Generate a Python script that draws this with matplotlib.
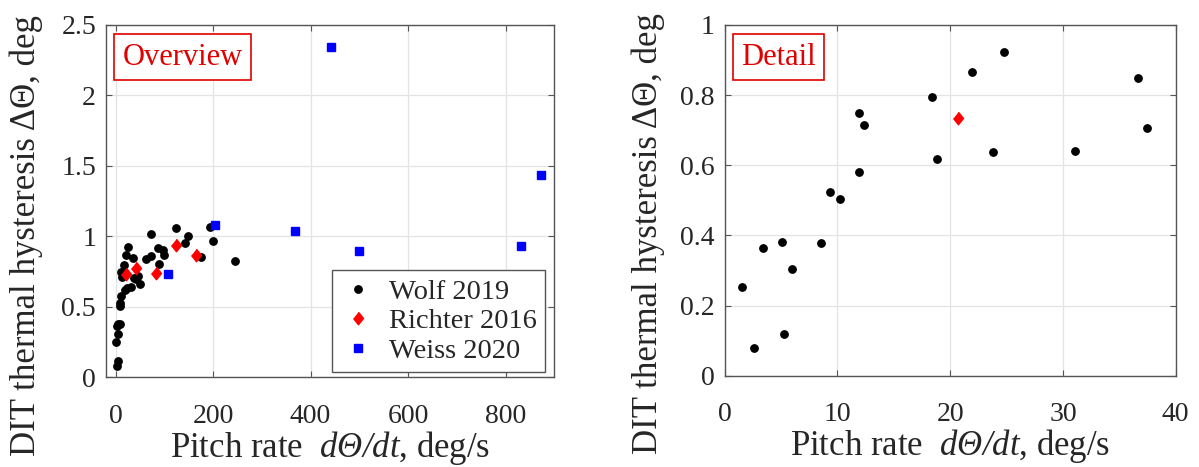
import matplotlib

matplotlib.use("Agg")
import matplotlib.pyplot as plt  # noqa: E402

plt.rcParams["font.family"] = ["Liberation Serif", "DejaVu Serif"]
plt.rcParams["mathtext.fontset"] = "custom"
plt.rcParams["mathtext.rm"] = "Liberation Serif"
plt.rcParams["mathtext.it"] = "Liberation Serif:italic"
# italic face also for the capital Greek letter in the derivative
plt.rcParams["mathtext.cal"] = "Liberation Serif:italic"

# Wolf 2019 (pitch rate deg/s, hysteresis deg)
wolf_rate = [1.5, 2.6, 3.4, 5.1, 5.3, 6.0, 8.5, 9.3, 10.2, 11.9, 11.9, 12.4,
             18.4, 18.8, 21.9, 23.8, 24.8, 31.1, 36.7, 37.5,
             43, 47, 50, 62, 73.5, 73, 87, 98, 100, 90,
             124, 142, 149, 175, 194, 200, 246]
wolf_hyst = [0.253, 0.080, 0.364, 0.381, 0.118, 0.305, 0.379, 0.525, 0.504, 0.748, 0.581, 0.716,
             0.796, 0.618, 0.867, 0.638, 0.924, 0.640, 0.849, 0.705,
             0.700, 0.722, 0.665, 0.839, 0.865, 1.020, 0.920, 0.905, 0.870, 0.805,
             1.057, 0.952, 1.000, 0.853, 1.065, 0.970, 0.827]

# Richter 2016
richter_rate = [20.7, 42, 83, 125, 166]
richter_hyst = [0.735, 0.773, 0.744, 0.938, 0.872]

# Weiss 2020
weiss_rate = [107.5, 205, 368, 442, 500, 831, 872]
weiss_hyst = [0.735, 1.078, 1.042, 2.342, 0.900, 0.929, 1.434]

TXT = "#262626"
AXC = "#555555"
DIAMOND = [(0, 1), (0.8, 0), (0, -1), (-0.8, 0)]

fig = plt.figure(figsize=(11.99, 4.67), dpi=100)
ax1 = fig.add_axes([0.0882, 0.1917, 0.3741, 0.7548])
ax2 = fig.add_axes([0.6044, 0.1955, 0.3761, 0.7510])


def style(ax, label_x):
    ax.grid(True, color="#e3e3e3", linewidth=0.9)
    ax.set_axisbelow(True)
    for s in ax.spines.values():
        s.set_color(AXC)
        s.set_linewidth(1.0)
    ax.tick_params(direction="in", top=True, right=True, length=4,
                   color=AXC, labelsize=20, labelcolor=TXT)
    ax.tick_params(axis="x", pad=19)
    ax.tick_params(axis="y", pad=7)
    ax.set_xlabel(r"Pitch rate  $\mathcal{d\Theta/dt}$, deg/s", fontsize=25, color=TXT, labelpad=0)
    ax.set_ylabel("DIT thermal hysteresis \u0394\u0398, deg", fontsize=25, color=TXT,
                  va="center")
    ax.yaxis.set_label_coords(label_x, 0.404)


def tag(ax, text, y):
    ax.text(0.037, y, text, transform=ax.transAxes, ha="left", va="top",
            fontsize=22, color="#e00000",
            bbox=dict(boxstyle="square,pad=0.27", facecolor="white",
                      edgecolor="#e00000", linewidth=1.2))


# overview
ax1.plot(wolf_rate, wolf_hyst, "o", color="black", markersize=5.3, label="Wolf 2019")
ax1.plot(richter_rate, richter_hyst, marker=DIAMOND, linestyle="none", color="#ff0000",
         markersize=9, label="Richter 2016")
ax1.plot(weiss_rate, weiss_hyst, "s", color="#0000ff", markersize=6, label="Weiss 2020")
ax1.set_xlim(-20, 900)
ax1.set_ylim(0, 2.5)
ax1.set_xticks([0, 200, 400, 600, 800])
ax1.set_yticks([0, 0.5, 1, 1.5, 2, 2.5])
ax1.set_yticklabels(["0", "0.5", "1", "1.5", "2", "2.5"])
style(ax1, -0.178)
tag(ax1, "Overview", 0.95)
leg = ax1.legend(loc="lower right", bbox_to_anchor=(0.98, 0.015), fontsize=20.5,
                 frameon=True, fancybox=False, framealpha=1, edgecolor=AXC,
                 handlelength=1.2, handletextpad=0.5, borderpad=0.3, labelspacing=0.12,
                 borderaxespad=0)
leg.get_frame().set_linewidth(1.0)
for t in leg.get_texts():
    t.set_color(TXT)

# detail, low pitch rates only
wolf_lo = [(r, h) for r, h in zip(wolf_rate, wolf_hyst) if r <= 40]
richter_lo = [(r, h) for r, h in zip(richter_rate, richter_hyst) if r <= 40]
ax2.plot([p[0] for p in wolf_lo], [p[1] for p in wolf_lo], "o", color="black", markersize=5.3)
ax2.plot([p[0] for p in richter_lo], [p[1] for p in richter_lo], marker=DIAMOND,
         linestyle="none", color="#ff0000", markersize=9)
ax2.set_xlim(0, 40)
ax2.set_ylim(0, 1)
ax2.set_xticks([0, 10, 20, 30, 40])
ax2.set_yticks([0, 0.2, 0.4, 0.6, 0.8, 1])
ax2.set_yticklabels(["0", "0.2", "0.4", "0.6", "0.8", "1"])
style(ax2, -0.170)
tag(ax2, "Detail", 0.95)

fig.savefig("out.png", dpi=100)
